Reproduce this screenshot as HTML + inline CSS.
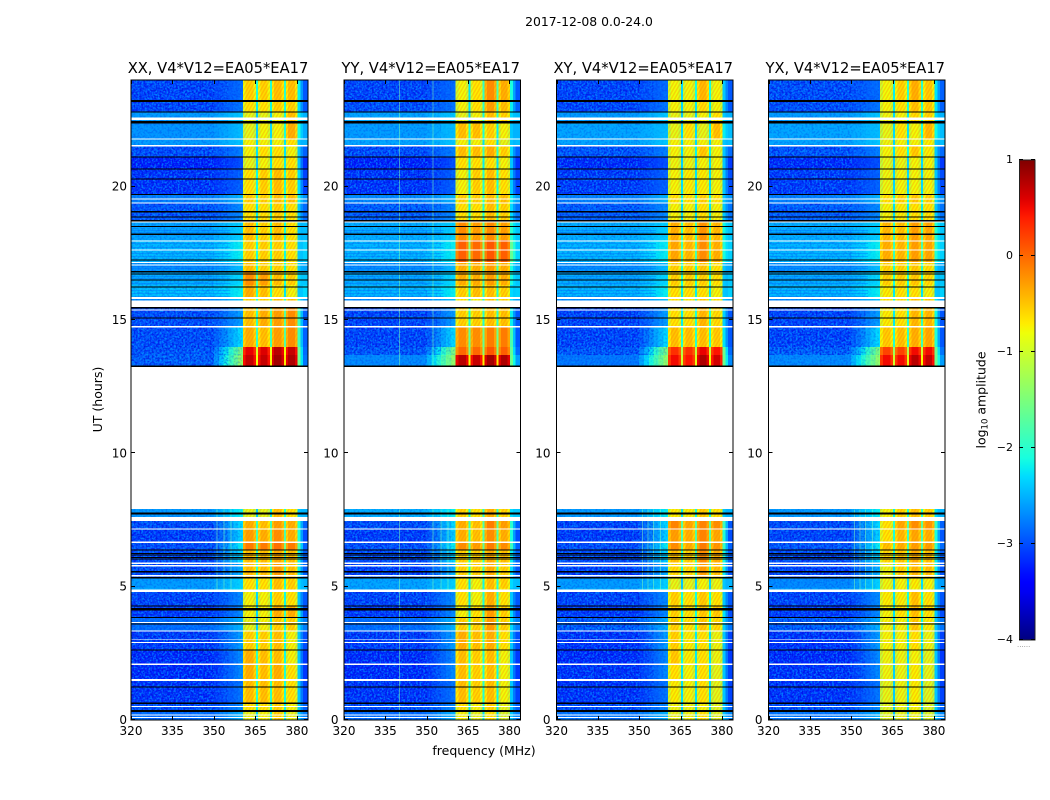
<!DOCTYPE html>
<html lang="en">
<head>
<meta charset="utf-8">
<title>2017-12-08 0.0-24.0</title>
<style>
html,body{margin:0;padding:0;background:#fff;width:1050px;height:800px;overflow:hidden}
svg{display:block}
text{font-family:"DejaVu Sans","Liberation Sans",sans-serif;fill:#000}
.tick{font-size:12px}
.ttl{font-size:14.7px}
</style>
</head>
<body>
<svg id="fig" width="1050" height="800" viewBox="0 0 1050 800" xmlns="http://www.w3.org/2000/svg">
<defs>
<filter id="speckle" x="0" y="0" width="100%" height="100%" color-interpolation-filters="sRGB">
<feTurbulence type="fractalNoise" baseFrequency="0.55" numOctaves="1" seed="4"/>
<feColorMatrix type="matrix" values="0 0 0 0 0  0 0 0 0 0.65  0 0 0 0 1  6 0 0 0 -2.75"/>
</filter>
<filter id="speckledark" x="0" y="0" width="100%" height="100%" color-interpolation-filters="sRGB">
<feTurbulence type="fractalNoise" baseFrequency="0.5" numOctaves="1" seed="11"/>
<feColorMatrix type="matrix" values="0 0 0 0 0  0 0 0 0 0  0 0 0 0 0.85  0 6 0 0 -2.75"/>
</filter>
<linearGradient id="jet-gradient" x1="0" y1="1" x2="0" y2="0"></linearGradient>
<pattern id="band-hatch" width="3" height="3" patternUnits="userSpaceOnUse" patternTransform="rotate(30)">
<rect x="0" y="0" width="1.5" height="3" fill="#ff7a00" opacity="0.3"></rect>
</pattern>
</defs>
<text x="589" y="26" text-anchor="middle" font-size="12.4">2017-12-08 0.0-24.0</text>
<text x="484" y="755" text-anchor="middle" font-size="12.5">frequency (MHz)</text>
<text transform="translate(102,399.5) rotate(-90)" text-anchor="middle" font-size="12.5">UT (hours)</text>
<text transform="translate(985.5,400) rotate(-90)" text-anchor="middle" font-size="12.5">log<tspan font-size="8.5" dy="2">10</tspan><tspan dy="-2"> amplitude</tspan></text>
<text x="1017" y="647" font-size="7" style="fill:#888">......</text>
</svg>
<script>
// ---------- data ----------
const panelTitles = ["XX, V4*V12=EA05*EA17","YY, V4*V12=EA05*EA17","XY, V4*V12=EA05*EA17","YX, V4*V12=EA05*EA17"];
const freqTicks = [320,335,350,365,380];
const utTicks = [0,5,10,15,20];
const colorbarTicks = [1,0,-1,-2,-3,-4];
const freqMin = 320, freqMax = 384, utMin = 0, utMax = 24, levelMin = -4, levelMax = 1;

// Upper edge of every time row (UT hours); last value closes the final row
const rowEdges = [24,23.25,22.8,22.425,21.79,21.525,21.11,20.66,19.725,19.39,18.675,18,17.175,16.8,16.31,15.825,15.45,14.74,13.99,13.69,13.275,7.91,7.5,7.125,6.675,6.375,5.89,5.36,4.95,4.8,4.275,3.86,3.34,2.625,2.1,1.5,0.64,0.34,0];

// Sub-band frequency limits (MHz)
const bandStart = [360.5,365.9,370.9,376];
const bandStop = [365.2,370.2,375.3,380.2];

// log10 amplitude per time row: 39 edges -> 38 rows, row 21 has no data
const riseLevels = [-2.85,-2.8,-2.4,-2.45,-2.4,-2.75,-3.0,-2.9,-2.5,-2.7,-2.35,-2.2,-2.45,-2.3,-2.2,-2.45,-2.6,-2.3,-1.5,-1.35,null,-2.2,-2.3,-2.35,-2.2,-2.3,-2.5,-2.35,-2.25,-2.7,-2.7,-2.5,-2.6,-2.7,-2.7,-2.8,-2.7,-2.5];

const xxBackground = [-3.05,-3.05,-2.6,-2.65,-2.6,-3.0,-3.25,-3.15,-2.75,-2.95,-2.55,-2.45,-2.65,-2.5,-2.4,-2.7,-3.0,-3.0,-2.95,-2.9,null,-2.6,-3.0,-3.1,-3.0,-3.0,-3.0,-2.6,-2.55,-3.05,-3.1,-2.85,-3.1,-3.2,-3.2,-3.15,-3.0,-2.85];
const xxBand1 = [-0.6,-0.7,-0.9,-0.9,-0.8,-0.8,-0.9,-0.7,-0.6,-0.7,-0.5,-0.6,-0.5,-0.2,-0.4,-0.6,-0.5,-0.4,0.55,0.7,null,-0.9,-0.4,-0.3,-0.1,-0.5,-0.5,-0.7,-0.7,-0.8,-0.8,-0.9,-0.6,-0.4,-0.4,-0.5,-0.7,-0.9];
const xxBand2 = [-0.6,-0.7,-0.9,-0.8,-0.8,-0.7,-0.8,-0.6,-0.6,-0.7,-0.6,-0.6,-0.6,-0.3,-0.5,-0.6,-0.4,-0.5,0.6,0.7,null,-0.9,-0.5,-0.4,-0.1,-0.5,-0.5,-0.7,-0.7,-0.8,-0.8,-0.8,-0.6,-0.5,-0.5,-0.5,-0.7,-0.8];
const xxBand3 = [-0.5,-0.6,-0.8,-0.8,-0.8,-0.7,-0.7,-0.5,-0.5,-0.6,-0.5,-0.6,-0.6,-0.5,-0.7,-0.5,-0.3,-0.3,0.75,0.85,null,-0.5,-0.3,-0.2,-0.05,-0.4,-0.3,-0.5,-0.5,-0.6,-0.4,-0.6,-0.5,-0.5,-0.4,-0.5,-0.6,-0.6];
const xxBand4 = [-0.5,-0.6,-0.5,-0.4,-0.7,-0.8,-0.7,-0.6,-0.5,-0.7,-0.7,-0.7,-0.7,-0.6,-0.8,-0.5,-0.2,-0.2,0.7,0.8,null,-0.7,-0.4,-0.4,-0.1,-0.5,-0.5,-0.6,-0.6,-0.7,-0.4,-0.6,-0.8,-0.8,-0.7,-0.7,-0.8,-0.9];

const yyBackground = [-3.05,-3.0,-2.55,-2.6,-2.55,-3.0,-3.25,-3.15,-2.7,-2.9,-2.5,-2.45,-2.65,-2.5,-2.45,-2.7,-3.05,-3.05,-2.95,-2.7,null,-2.5,-3.0,-3.1,-3.0,-3.0,-3.05,-2.55,-2.55,-3.05,-3.1,-2.85,-3.1,-3.2,-3.2,-3.15,-3.0,-2.85];
const yyBand1 = [-0.8,-0.8,-0.9,-0.5,-0.8,-0.5,-0.7,-0.8,-0.6,-0.7,-0.2,0.05,-0.4,-0.4,-0.6,-0.7,-0.6,-0.2,0.0,0.75,null,-0.6,-0.4,-0.4,-0.2,-0.6,-0.6,-0.7,-0.7,-0.7,-0.8,-0.6,-0.4,-0.5,-0.5,-0.5,-0.7,-0.8];
const yyBand2 = [-0.7,-0.7,-0.8,-0.5,-0.8,-0.5,-0.7,-0.6,-0.6,-0.7,-0.3,0.0,-0.4,-0.4,-0.5,-0.8,-0.6,-0.2,0.0,0.7,null,-0.7,-0.5,-0.5,-0.3,-0.6,-0.6,-0.8,-0.8,-0.8,-0.7,-0.6,-0.5,-0.6,-0.6,-0.6,-0.8,-0.9];
const yyBand3 = [-0.2,-0.3,-0.5,-0.6,-0.7,-0.4,-0.7,-0.5,-0.5,-0.5,-0.2,0.1,-0.3,-0.3,-0.5,-0.5,-0.5,-0.1,0.1,0.85,null,-0.4,-0.1,-0.2,-0.1,-0.4,-0.4,-0.5,-0.5,-0.4,-0.3,-0.3,-0.4,-0.5,-0.5,-0.5,-0.6,-0.7];
const yyBand4 = [-0.4,-0.5,-0.6,-0.8,-0.9,-0.6,-0.8,-0.7,-0.5,-0.6,-0.3,0.05,-0.4,-0.4,-0.6,-0.6,-0.5,-0.1,0.05,0.8,null,-0.6,-0.3,-0.4,-0.2,-0.5,-0.6,-0.6,-0.7,-0.7,-0.6,-0.6,-0.7,-0.8,-0.8,-0.8,-0.9,-1.0];

const xyBackground = [-3.05,-3.05,-2.6,-2.55,-2.55,-2.95,-3.2,-3.1,-2.75,-2.9,-2.5,-2.45,-2.65,-2.5,-2.45,-2.7,-3.05,-3.05,-2.95,-2.8,null,-2.6,-3.05,-3.1,-3.0,-3.0,-3.05,-2.6,-2.55,-3.05,-3.1,-2.9,-3.15,-3.2,-3.15,-3.15,-3.0,-2.8];
const xyBand1 = [-0.8,-0.8,-0.9,-0.9,-0.8,-0.8,-0.85,-0.8,-0.7,-0.8,-0.4,-0.35,-0.6,-0.6,-0.7,-0.7,-0.7,-0.5,0.3,0.5,null,-0.75,-0.15,-0.3,-0.2,-0.5,-0.65,-0.9,-0.85,-0.6,-0.6,-0.6,-0.6,-0.55,-0.7,-0.75,-0.85,-0.9];
const xyBand2 = [-0.8,-0.8,-0.9,-0.7,-0.8,-0.8,-0.85,-0.75,-0.7,-0.8,-0.5,-0.45,-0.6,-0.6,-0.7,-0.75,-0.7,-0.5,0.3,0.45,null,-0.75,-0.35,-0.4,-0.4,-0.6,-0.65,-0.9,-0.85,-0.7,-0.7,-0.7,-0.75,-0.75,-0.8,-0.8,-0.85,-0.85];
const xyBand3 = [-0.45,-0.65,-0.8,-0.9,-0.8,-0.55,-0.8,-0.75,-0.6,-0.7,-0.25,-0.2,-0.55,-0.6,-0.7,-0.55,-0.45,-0.5,0.55,0.8,null,-0.55,-0.15,-0.15,-0.1,-0.2,-0.3,-0.8,-0.8,-0.55,-0.55,-0.55,-0.7,-0.7,-0.7,-0.7,-0.8,-0.7];
const xyBand4 = [-0.8,-0.8,-0.7,-0.5,-0.8,-0.8,-0.8,-0.8,-0.7,-0.8,-0.45,-0.4,-0.7,-0.7,-0.8,-0.7,-0.65,-0.55,0.45,0.65,null,-0.7,-0.2,-0.35,-0.25,-0.4,-0.5,-0.85,-0.85,-0.7,-0.55,-0.65,-0.85,-0.85,-0.9,-0.9,-0.95,-0.95];

const yxBackground = [-3.0,-3.0,-2.6,-2.55,-2.55,-2.95,-3.2,-3.1,-2.75,-2.9,-2.5,-2.45,-2.65,-2.5,-2.45,-2.7,-3.05,-3.05,-2.9,-2.7,null,-2.6,-3.0,-3.05,-2.95,-3.0,-3.05,-2.7,-2.6,-3.05,-3.1,-2.9,-3.15,-3.2,-3.15,-3.15,-3.0,-2.8];
const yxBand1 = [-0.8,-0.8,-0.85,-0.9,-0.85,-0.8,-0.9,-0.85,-0.7,-0.8,-0.45,-0.4,-0.6,-0.6,-0.75,-0.7,-0.75,-0.55,0.2,0.5,null,-0.8,-0.7,-0.7,-0.5,-0.65,-0.85,-0.85,-0.85,-0.75,-0.8,-0.8,-0.8,-0.85,-0.85,-0.9,-0.95,-0.95];
const yxBand2 = [-0.6,-0.7,-0.8,-0.7,-0.8,-0.7,-0.85,-0.8,-0.6,-0.75,-0.5,-0.45,-0.6,-0.6,-0.7,-0.65,-0.7,-0.5,0.2,0.5,null,-0.6,-0.35,-0.45,-0.4,-0.55,-0.6,-0.8,-0.8,-0.75,-0.7,-0.8,-0.8,-0.85,-0.85,-0.85,-0.9,-0.9];
const yxBand3 = [-0.4,-0.5,-0.65,-0.8,-0.8,-0.55,-0.8,-0.8,-0.55,-0.7,-0.3,-0.3,-0.55,-0.55,-0.7,-0.5,-0.45,-0.4,0.5,0.75,null,-0.5,-0.2,-0.35,-0.3,-0.4,-0.45,-0.75,-0.8,-0.5,-0.5,-0.55,-0.7,-0.8,-0.75,-0.75,-0.8,-0.85];
const yxBand4 = [-0.55,-0.55,-0.6,-0.45,-0.75,-0.75,-0.8,-0.8,-0.6,-0.7,-0.35,-0.35,-0.65,-0.65,-0.8,-0.55,-0.45,-0.35,0.5,0.7,null,-0.6,-0.25,-0.4,-0.3,-0.5,-0.5,-0.8,-0.85,-0.7,-0.7,-0.75,-0.85,-0.9,-0.9,-0.95,-1.0,-1.0];

// Flagged integrations (UT centre, duration in hours)
const blackFlagTimes = [23.22,22.8,22.41,21.12,20.66,20.28,19.71,19.06,18.87,18.72,18.5,18.21,17.25,16.81,16.73,16.5,16.23,15.46,15.08,13.26,7.77,7.73,6.38,6.25,6.19,6.1,6.03,5.56,5.34,4.28,4.16,3.85,3.6,2.63,1.23,0.63,0.34];
const blackFlagDurations = [0.075,0.04,0.09,0.04,0.05,0.04,0.04,0.04,0.04,0.06,0.04,0.06,0.04,0.04,0.04,0.04,0.04,0.04,0.04,0.05,0.04,0.04,0.04,0.04,0.04,0.04,0.04,0.04,0.05,0.04,0.09,0.04,0.04,0.04,0.04,0.065,0.075];
const whiteFlagTimes = [22.54,21.79,21.53,19.54,19.39,18.68,17.97,17.63,17.15,17.06,15.83,15.61,15.38,14.75,10.575,7.53,7.16,6.66,5.88,5.78,5.41,4.84,3.66,3.33,3.03,2.9,2.09,1.5,0.5,0.19,0.1];
const whiteFlagDurations = [0.095,0.05,0.065,0.04,0.05,0.04,0.04,0.04,0.04,0.04,0.075,0.25,0.04,0.065,5.33,0.15,0.04,0.05,0.05,0.05,0.04,0.095,0.04,0.04,0.03,0.04,0.05,0.065,0.04,0.04,0.04];

// Low-amplitude streaks across the continuum (UT centre)
const streakTimes = [19.31,19.2,19.01,18.82,18.375,18.3,17.89,17.74,17.51,17.4,17.03,16.95,16.65,16.58,16.39,16.13,16.01,15.9];

// Narrow interference channels per panel (MHz, UT from, UT to)
const xxRfiFreq = [351,353.5,356];
const xxRfiFrom = [4.9,4.9,4.9];
const xxRfiTo = [7.9,7.9,7.9];
const yyRfiFreq = [340,340,352,352,355,357.5];
const yyRfiFrom = [0,13.3,13.3,4.9,4.9,4.9];
const yyRfiTo = [7.9,24,24,7.9,7.9,7.9];
const xyRfiFreq = [351,353,355,357.5];
const xyRfiFrom = [4.9,4.9,4.9,4.9];
const xyRfiTo = [7.9,7.9,7.9,7.9];
const yxRfiFreq = [351,353,355,357.5];
const yxRfiFrom = [4.9,4.9,4.9,4.9];
const yxRfiTo = [7.9,7.9,7.9,7.9];

// ---------- layout ----------
const NS = "http://www.w3.org/2000/svg";
const fig = document.getElementById("fig");
const panelLeft = [131,344,556.5,768.5];
const panelRight = [308,520.5,733,945];
const tickLabelGap = [4,5.5,6,6];
const panelTop = 80, panelBottom = 720;
const cbLeft = 1019, cbRight = 1035, cbTop = 160, cbBottom = 640;

function yScale(ut){ return panelBottom - (ut-utMin)/(utMax-utMin)*(panelBottom-panelTop); }
function levelScale(v){ return cbBottom - (v-levelMin)/(levelMax-levelMin)*(cbBottom-cbTop); }

function interp(x,xs,ys){
  if(x<=xs[0]) return ys[0];
  for(let i=1;i<xs.length;i++){
    if(x<=xs[i]) return ys[i-1]+(ys[i]-ys[i-1])*(x-xs[i-1])/(xs[i]-xs[i-1]);
  }
  return ys[ys.length-1];
}
function jet(v){
  const t = Math.max(0,Math.min(1,(v-levelMin)/(levelMax-levelMin)));
  const r = interp(t,[0,0.35,0.66,0.89,1],[0,0,1,1,0.5]);
  const g = interp(t,[0,0.125,0.375,0.64,0.91,1],[0,0,1,1,0,0]);
  const b = interp(t,[0,0.11,0.34,0.65,1],[0.5,1,1,0,0]);
  return "rgb("+Math.round(r*255)+","+Math.round(g*255)+","+Math.round(b*255)+")";
}
function make(tag,attrs,parent){
  const e = document.createElementNS(NS,tag);
  for(const k in attrs){ e.setAttribute(k,attrs[k]); }
  parent.appendChild(e);
  return e;
}

function drawPanel(i,background,bands,rfiFreq,rfiFrom,rfiTo){
  const L = panelLeft[i], R = panelRight[i];
  const x = function(f){ return L + (f-freqMin)/(freqMax-freqMin)*(R-L); };
  const g = make("g",{},fig);
  
  

  function cell(f0,f1,top,bot,value){
    const r = make("rect",{x:x(f0),y:top,width:x(f1)-x(f0)+0.3,height:bot-top+0.3,fill:jet(value),"shape-rendering":"crispEdges"},g);
    
    
  }
  function hatch(f0,f1,top,bot){
    const r = make("rect",{x:x(f0),y:top,width:x(f1)-x(f0),height:bot-top,fill:"url(#band-hatch)"},g);
    
    
  }
  function speckle(f0,f1,top,bot,light,dark){
    const sp = make("rect",{x:x(f0),y:top,width:x(f1)-x(f0),height:bot-top,filter:"url(#speckle)",opacity:light},g);
    
    
    const sd = make("rect",{x:x(f0),y:top,width:x(f1)-x(f0),height:bot-top,filter:"url(#speckledark)",opacity:dark},g);
    
    
  }

  for(let r=0;r<background.length;r++){
    const bg = background[r];
    if(bg===null) continue;
    const top = yScale(rowEdges[r]), bot = yScale(rowEdges[r+1]);
    const rise = Math.max(riseLevels[r],bg);
    cell(freqMin,350,top,bot,bg);
    const steps = 6;
    for(let s=0;s<steps;s++){
      const a = 350+(bandStart[0]-350)*s/steps, b = 350+(bandStart[0]-350)*(s+1)/steps;
      const k = (s+1)/steps;
      cell(a,b,top,bot,bg+(rise-bg)*k);
    }
    for(let b=0;b<bands.length;b++){
      const v = bands[b][r];
      const w = (bandStop[b]-bandStart[b])*0.2;
      cell(bandStart[b],bandStart[b]+w,top,bot,v-0.22);
      cell(bandStart[b]+w,bandStop[b]-w,top,bot,v);
      cell(bandStop[b]-w,bandStop[b],top,bot,v-0.22);
      if(v<-0.1) hatch(bandStart[b],bandStop[b],top,bot);
      if(b<bands.length-1){
        cell(bandStop[b],bandStart[b+1],top,bot,(bands[b][r]+bands[b+1][r])/2-1.5);
      }
    }
    const lastBand = bandStop[bandStop.length-1];
    const tailA = Math.max(-2.4,Math.min(-1.6,bands[3][r]-1.7));
    cell(lastBand,lastBand+1,top,bot,tailA);
    cell(lastBand+1,lastBand+2,top,bot,(tailA+bg)/2);
    cell(lastBand+2,freqMax,top,bot,bg+0.1);

    // receiver-noise speckle: strongest in the quiet rows, fades towards the band edge
    const darkAmount = bg<-2.85 ? 0.5 : 0.18;
    const lightAmount = bg<-2.85 ? 0.6 : 0.4;
    speckle(freqMin,350,top,bot,lightAmount,darkAmount);
    speckle(350,355,top,bot,lightAmount*0.6,darkAmount*0.6);
    speckle(355,360,top,bot,lightAmount*0.3,darkAmount*0.3);
  }

  streakTimes.forEach(function(u){
    const s = make("rect",{x:L,y:yScale(u),width:x(356)-L,height:1,fill:"#0060ff",opacity:0.35,"shape-rendering":"crispEdges"},g);
    
    
  });

  for(let k=0;k<rfiFreq.length;k++){
    const l = make("rect",{x:x(rfiFreq[k]),y:yScale(rfiTo[k]),width:1,height:yScale(rfiFrom[k])-yScale(rfiTo[k]),fill:"#7fffb0",opacity:0.5,"shape-rendering":"crispEdges"},g);
    
    
  }

  for(let k=0;k<whiteFlagTimes.length;k++){
    const c = whiteFlagTimes[k], d = whiteFlagDurations[k];
    const w = make("rect",{x:L,y:yScale(c+d/2),width:R-L,height:yScale(c-d/2)-yScale(c+d/2),fill:"#fff","shape-rendering":"crispEdges"},g);
    
    
  }
  for(let k=0;k<blackFlagTimes.length;k++){
    const c = blackFlagTimes[k], d = blackFlagDurations[k];
    const w = make("rect",{x:L,y:yScale(c+d/2),width:R-L,height:yScale(c-d/2)-yScale(c+d/2),fill:"#000","shape-rendering":"crispEdges"},g);
    
    
  }

  // frame
  const frame = make("rect",{x:L,y:panelTop,width:R-L,height:panelBottom-panelTop,fill:"none",stroke:"#000","stroke-width":1,"shape-rendering":"crispEdges"},g);
  
  

  // ticks
  freqTicks.forEach(function(f){
    const tx = Math.round(x(f))+0.5;
    const a = make("line",{x1:tx,x2:tx,y1:panelBottom,y2:panelBottom-4,stroke:"#000","shape-rendering":"crispEdges"},g);
    
    
    const b = make("line",{x1:tx,x2:tx,y1:panelTop,y2:panelTop+4,stroke:"#000","shape-rendering":"crispEdges"},g);
    
    
    const lab = make("text",{x:x(f),y:panelBottom+15,"text-anchor":"middle","class":"tick"},g);
    
    
    lab.textContent = f;
  });
  utTicks.forEach(function(u){
    const ty = Math.round(yScale(u))-0.5;
    const a = make("line",{x1:L,x2:L+4,y1:ty,y2:ty,stroke:"#000","shape-rendering":"crispEdges"},g);
    
    
    const b = make("line",{x1:R-4,x2:R,y1:ty,y2:ty,stroke:"#000","shape-rendering":"crispEdges"},g);
    
    
    const lab = make("text",{x:L-tickLabelGap[i],y:yScale(u)+4,"text-anchor":"end","class":"tick"},g);
    
    
    lab.textContent = u;
  });

  const title = make("text",{x:(L+R)/2-1.5,y:73,"text-anchor":"middle","class":"ttl"},g);
  
  
  title.textContent = panelTitles[i];
}

drawPanel(0,xxBackground,[xxBand1,xxBand2,xxBand3,xxBand4],xxRfiFreq,xxRfiFrom,xxRfiTo);
drawPanel(1,yyBackground,[yyBand1,yyBand2,yyBand3,yyBand4],yyRfiFreq,yyRfiFrom,yyRfiTo);
drawPanel(2,xyBackground,[xyBand1,xyBand2,xyBand3,xyBand4],xyRfiFreq,xyRfiFrom,xyRfiTo);
drawPanel(3,yxBackground,[yxBand1,yxBand2,yxBand3,yxBand4],yxRfiFreq,yxRfiFrom,yxRfiTo);

// ---------- colorbar ----------
const grad = document.getElementById("jet-gradient");
for(let p=0;p<=50;p++){
  const v = levelMin+(levelMax-levelMin)*p/50;
  make("stop",{offset:(p*2)+"%","stop-color":jet(v)},grad);
}
const cb = make("g",{},fig);


const cbFill = make("rect",{x:cbLeft,y:cbTop,width:cbRight-cbLeft,height:cbBottom-cbTop,fill:"url(#jet-gradient)"},cb);


const cbFrame = make("rect",{x:cbLeft+0.5,y:cbTop,width:cbRight-cbLeft-0.5,height:cbBottom-cbTop,fill:"none",stroke:"#222","stroke-width":1,"shape-rendering":"crispEdges"},cb);


colorbarTicks.forEach(function(v){
  const ty = Math.round(levelScale(v))-0.5;
  const a = make("line",{x1:cbLeft,x2:cbLeft+4,y1:ty,y2:ty,stroke:"#000","shape-rendering":"crispEdges"},cb);
  
  
  const b = make("line",{x1:cbRight-4,x2:cbRight,y1:ty,y2:ty,stroke:"#000","shape-rendering":"crispEdges"},cb);
  
  
  const lab = make("text",{x:cbLeft-6,y:levelScale(v)+3,"text-anchor":"end","font-size":"11"},cb);
  
  
  lab.textContent = v<0 ? "\u2212"+Math.abs(v) : String(v);
});
</script>
</body>
</html>
